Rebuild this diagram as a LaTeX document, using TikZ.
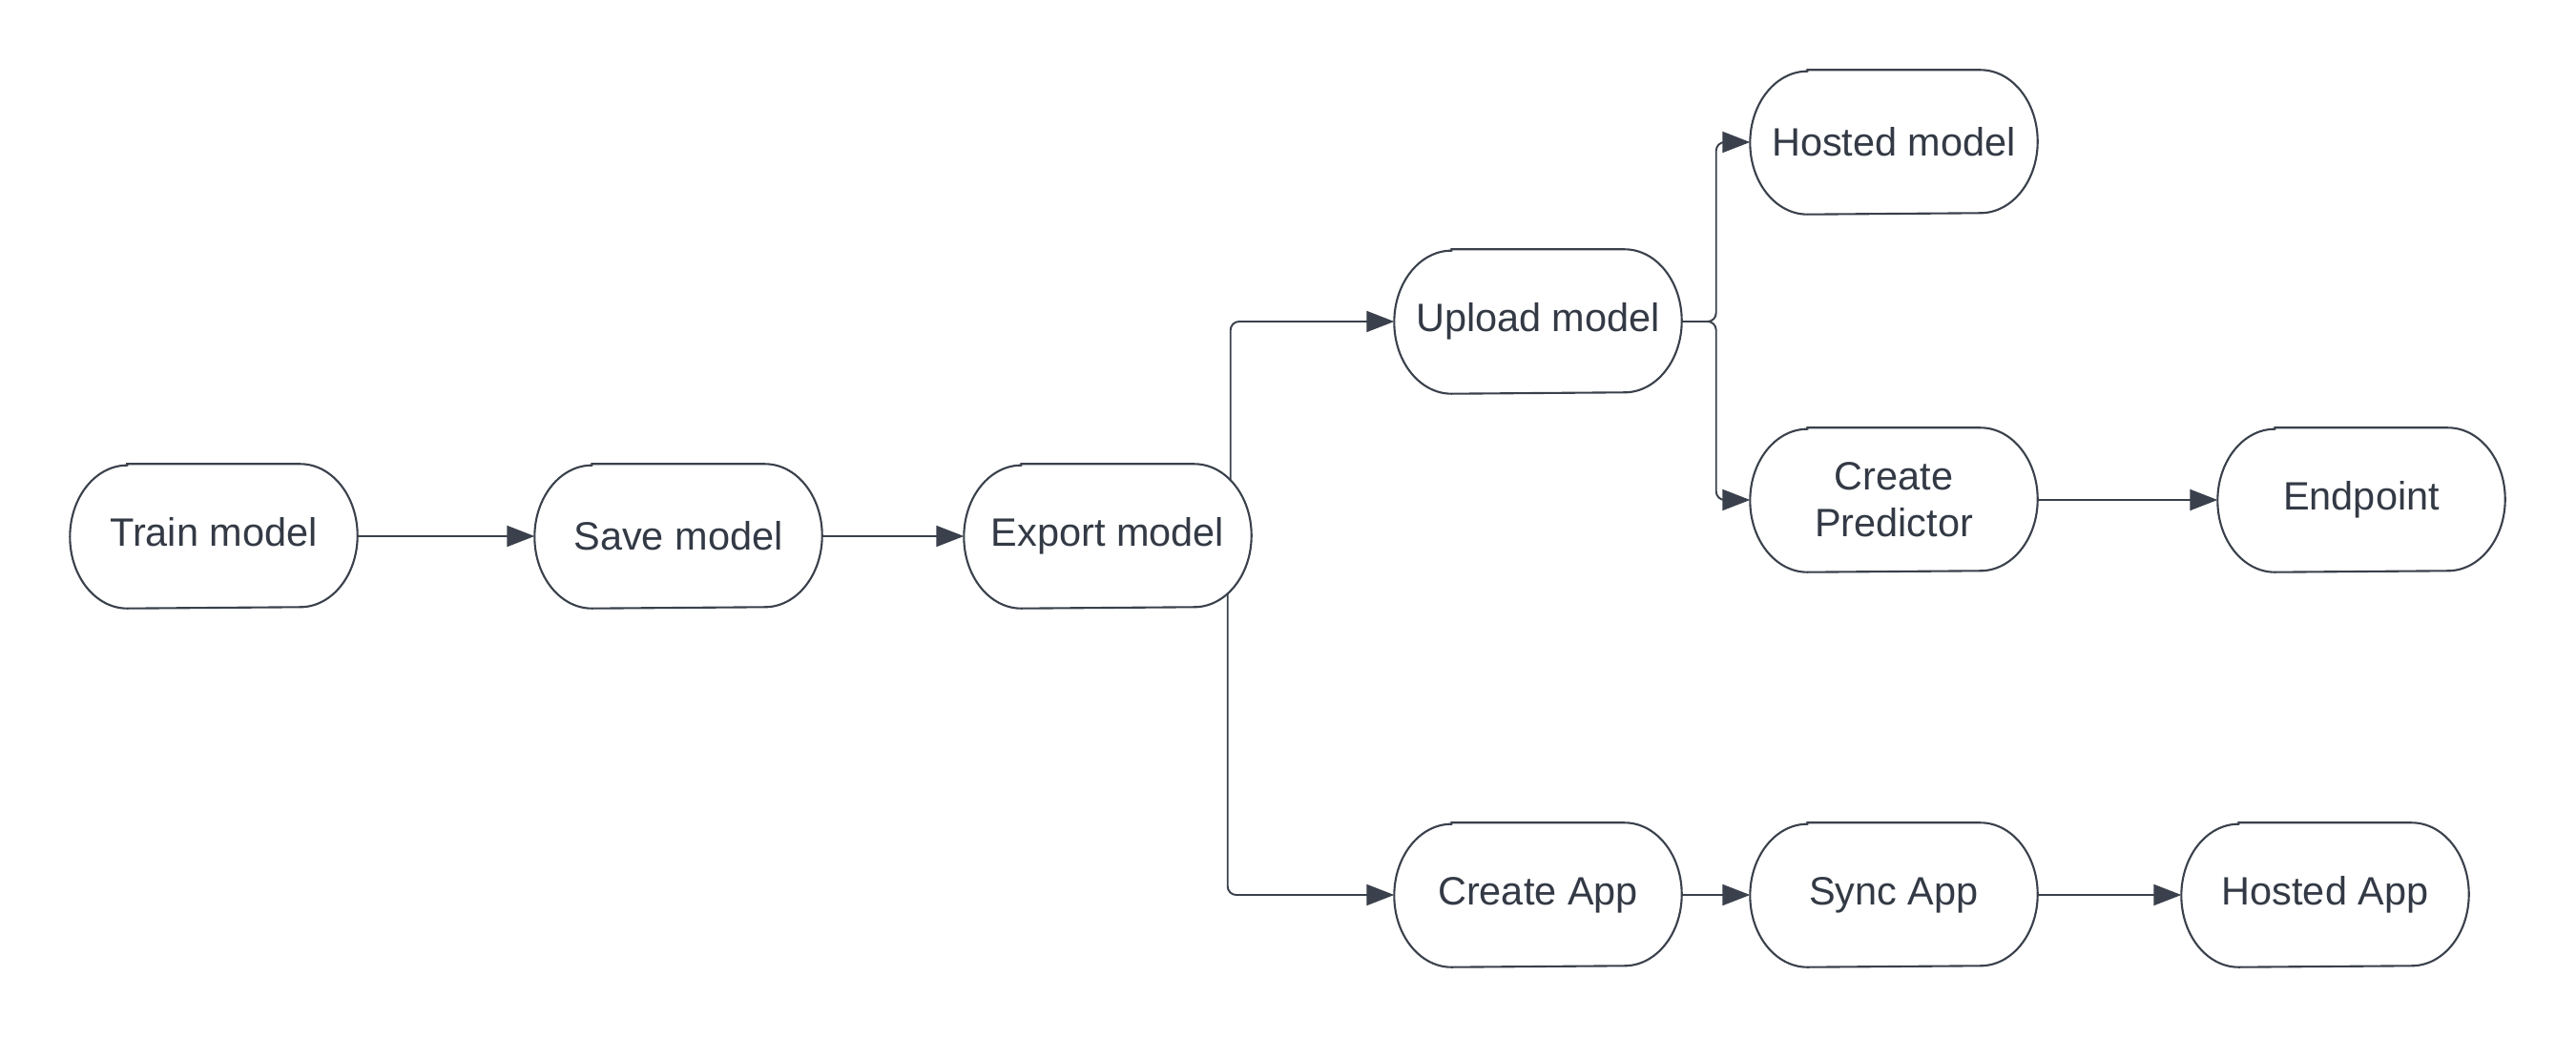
\documentclass[tikz,border=0pt]{standalone}
\usepackage{fontspec}
\setmainfont{Liberation Sans}
\usetikzlibrary{arrows.meta}
\pgfdeclarelayer{bg}
\pgfsetlayers{bg,main}
\definecolor{ink}{HTML}{3A414C}
\definecolor{txt}{HTML}{333A45}
\tikzset{
  stepnode/.style={minimum width=3cm, minimum height=1.5cm, inner sep=0pt, align=center,
    text=txt, font=\fontsize{11.8}{14}\selectfont},
  outline/.style={draw=ink, line width=0.6pt, fill=white},
  link/.style={draw=ink, line width=0.55pt, -{Triangle[length=0.29cm, width=0.22cm]}},
  elbowlink/.style={link, rounded corners=0.09cm}
}
\newcommand{\pillshape}[1]{%
  \path[outline] ([xshift=0.6cm]#1.north west) -- ([xshift=-0.6cm]#1.north east)
    arc[start angle=90, end angle=-90, x radius=0.6cm, y radius=0.75cm]
    -- ([xshift=0.6cm]#1.south west)
    arc[start angle=270, end angle=90, x radius=0.6cm, y radius=0.75cm] -- cycle;}
\begin{document}
\begin{tikzpicture}
\useasboundingbox (0,0) rectangle (27,10.88);
\node[stepnode] (train) at (2.24,5.26) {Train model\vphantom{y}\raisebox{0pt}{}};
\node[stepnode] (save) at (7.11,5.26) {Save model};
\node[stepnode] (export) at (11.61,5.26) {Export model};
\node[stepnode] (upload) at (16.12,7.51) {Upload model};
\node[stepnode] (hostedm) at (19.85,9.39) {Hosted model};
\node[stepnode] (predictor) at (19.85,5.64) {Create\\Predictor};
\node[stepnode] (endpoint) at (24.75,5.64) {Endpoint};
\node[stepnode] (createapp) at (16.12,1.50) {Create App};
\node[stepnode] (sync) at (19.85,1.50) {Sync App};
\node[stepnode] (hostedapp) at (24.37,1.50) {Hosted App};
\coordinate (split) at ([xshift=0.36cm]upload.east);
\coordinate (upstart) at ([xshift=-0.22cm]export.east);
\coordinate (downstart) at ([xshift=-0.25cm]export.east);
\begin{pgfonlayer}{bg}
  \draw[link] (train.east) -- (save.west);
  \draw[link] (save.east) -- (export.west);
  \draw[elbowlink] (upstart) |- (upload.west);
  \draw[elbowlink] (downstart) |- (createapp.west);
  \draw[elbowlink] (upload.east) -- (split) |- (hostedm.west);
  \draw[elbowlink] (upload.east) -- (split) |- (predictor.west);
  \draw[link] (predictor.east) -- (endpoint.west);
  \draw[link] (createapp.east) -- (sync.west);
  \draw[link] (sync.east) -- (hostedapp.west);
  \foreach \n in {train,save,export,upload,hostedm,predictor,endpoint,createapp,sync,hostedapp}
    {\pillshape{\n}}
\end{pgfonlayer}
\end{tikzpicture}
\end{document}
